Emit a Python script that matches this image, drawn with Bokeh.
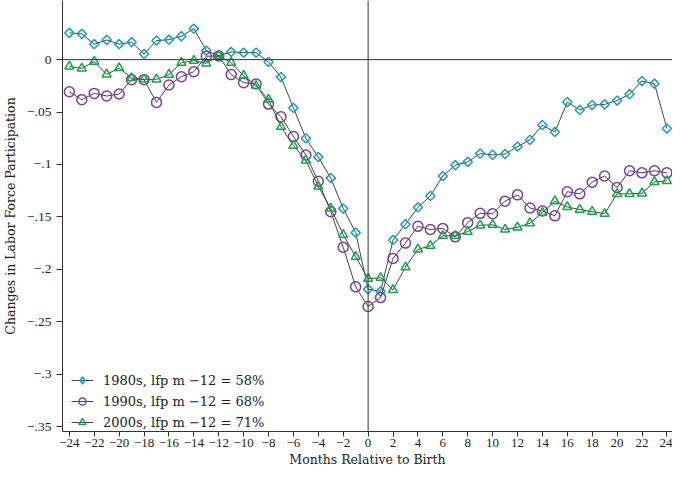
import numpy as np
from bokeh.plotting import figure
from bokeh.models import (Span, FixedTicker, CustomJSTickFormatter, Legend, LegendItem)
from bokeh.embed import file_html
from bokeh.resources import INLINE

months = list(range(-24, 25))

lfp_1980s = [0.0255, 0.0246, 0.0147, 0.0188, 0.0147, 0.0166, 0.0054, 0.0182, 0.0190, 0.0223,
             0.0296, 0.0086, 0.0038, 0.0073, 0.0067, 0.0067, -0.0022, -0.0166, -0.0460, -0.0750,
             -0.0930, -0.1130, -0.1420, -0.1650, -0.2190, -0.2210, -0.1720, -0.1570, -0.1410, -0.1300,
             -0.1110, -0.1007, -0.0975, -0.0896, -0.0908, -0.0900, -0.0830, -0.0765, -0.0625, -0.0690,
             -0.0405, -0.0480, -0.0433, -0.0427, -0.0390, -0.0330, -0.0204, -0.0230, -0.0657]

lfp_1990s = [-0.0306, -0.0382, -0.0322, -0.0347, -0.0328, -0.0191, -0.0191, -0.0408, -0.0242, -0.0163,
             -0.0115, 0.0032, 0.0035, -0.0143, -0.0220, -0.0232, -0.0424, -0.0545, -0.0733, -0.0910,
             -0.1160, -0.1450, -0.1790, -0.2167, -0.2355, -0.2270, -0.1896, -0.1750, -0.1590, -0.1620,
             -0.1610, -0.1690, -0.1555, -0.1466, -0.1470, -0.1350, -0.1290, -0.1415, -0.1444, -0.1490,
             -0.1260, -0.1280, -0.1170, -0.1110, -0.1220, -0.1060, -0.1080, -0.1060, -0.1080]

lfp_2000s = [-0.0064, -0.0083, -0.0019, -0.0140, -0.0080, -0.0175, -0.0188, -0.0188, -0.0143, -0.0029,
             -0.0010, -0.0035, 0.0038, -0.0029, -0.0153, -0.0249, -0.0380, -0.0640, -0.0820, -0.0960,
             -0.1210, -0.1420, -0.1670, -0.1880, -0.2090, -0.2080, -0.2196, -0.1980, -0.1810, -0.1775,
             -0.1680, -0.1680, -0.1640, -0.1580, -0.1575, -0.1620, -0.1600, -0.1560, -0.1460, -0.1350,
             -0.1405, -0.1430, -0.1450, -0.1470, -0.1280, -0.1280, -0.1275, -0.1166, -0.1157]

labels = ["1980s, lfp m \u221212 = 58%", "1990s, lfp m \u221212 = 68%", "2000s, lfp m \u221212 = 71%"]
x_ticks = list(range(-24, 25, 2))
y_ticks = [0, -0.05, -0.1, -0.15, -0.2, -0.25, -0.3, -0.35]

FONT = "DejaVu Serif"
TICK_FONT = "Liberation Serif"

p = figure(width=672, height=469, x_range=(-24.55, 24.45), y_range=(-0.3547, 0.0564),
           output_backend="svg", toolbar_location=None,
           min_border_left=54, min_border_right=0, min_border_top=0, min_border_bottom=36)
p.outline_line_color = None
p.xgrid.visible = False
p.ygrid.visible = False
p.background_fill_color = "white"
p.border_fill_color = "white"

for ax in (p.xaxis[0], p.yaxis[0]):
    ax.axis_line_color = "#333333"
    ax.major_tick_line_color = "#333333"
    ax.minor_tick_line_color = None
    ax.major_tick_out = 6
    ax.major_tick_in = 0
    ax.major_label_text_font = TICK_FONT
    ax.major_label_text_font_size = "13.5px"
    ax.major_label_text_color = "#222222"
    ax.axis_label_text_font = FONT
    ax.axis_label_text_font_size = "12.5px"
    ax.axis_label_text_font_style = "normal"
    ax.axis_label_text_color = "#222222"

p.xaxis.major_tick_out = 5
p.xaxis.major_label_text_font_size = "13px"
p.xaxis.ticker = FixedTicker(ticks=x_ticks)
p.yaxis.ticker = FixedTicker(ticks=y_ticks)
p.xaxis.formatter = CustomJSTickFormatter(code="return tick < 0 ? '\\u2212' + Math.abs(tick) : String(tick);")
p.yaxis.formatter = CustomJSTickFormatter(code="""
if (Math.abs(tick) < 1e-9) { return '0'; }
var s = Math.abs(tick).toFixed(2).replace(/0+$/, '').replace(/^0/, '');
return (tick < 0 ? '\\u2212' : '') + s;
""")
p.yaxis.axis_label = "Changes in Labor Force Participation"
p.xaxis.axis_label = "Months Relative to Birth"
p.xaxis.major_label_standoff = 2
p.xaxis.axis_label_standoff = 2
p.yaxis.major_label_standoff = 5
p.yaxis.axis_label_standoff = 6

p.add_layout(Span(location=0, dimension="width", line_color="#333333", line_width=1))
p.add_layout(Span(location=0, dimension="height", line_color="#333333", line_width=1))

series = [(lfp_1980s, "#1c9cb8", "square", 6.5, np.pi / 4, "diamond", 9),
          (lfp_1990s, "#7b3f9e", "circle", 10, 0, "circle", 9),
          (lfp_2000s, "#18a348", "triangle", 9, 0, "triangle", 8)]

items = []
for (vals, col, mk, sz, ang, lmk, lsz), lab in zip(series, labels):
    p.line(months, vals, line_color="#444444", line_width=1)
    p.scatter(months, vals, marker=mk, size=sz, angle=ang, line_color=col,
              fill_color=None, line_width=1.5)
    # off-range proxies used only for the legend key
    g1 = p.line([-1000, -999], [-1000, -1000], line_color="#444444", line_width=1)
    g2 = p.scatter([-1000], [-1000], marker=lmk, size=lsz, line_color=col, fill_color=None, line_width=1.5)
    items.append(LegendItem(label=lab, renderers=[g1, g2]))

legend = Legend(items=items, location=(9, 0))
legend.border_line_color = None
legend.background_fill_alpha = 0
legend.label_text_font = FONT
legend.label_text_font_size = "13px"
legend.label_text_color = "#222222"
legend.glyph_width = 22
legend.glyph_height = 18
legend.spacing = 3
legend.padding = 1
legend.margin = 0
legend.label_standoff = 10
p.add_layout(legend)

open("out.html", "w").write(file_html(p, INLINE))
